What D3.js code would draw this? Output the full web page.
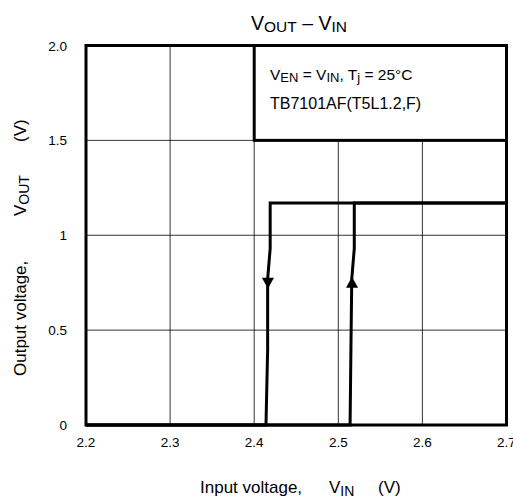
<!DOCTYPE html>
<html>
<head>
<meta charset="utf-8">
<script src="https://cdn.jsdelivr.net/npm/d3@7"></script>
<style>
  body { margin: 0; background: #fff; overflow: hidden; }
  text { font-family: "Liberation Sans", Arial, sans-serif; fill: #000; }
</style>
</head>
<body>
<div id="chart"></div>
<script>
// axis ticks
let xTicks = [2.2, 2.3, 2.4, 2.5, 2.6, 2.7];
let yTicks = [0, 0.5, 1, 1.5, 2.0];
let yTickLabels = ['0', '0.5', '1', '1.5', '2.0'];

// VOUT while VIN falls (turn-off) and rises (turn-on)
let fallVin  = [2.7, 2.419, 2.419, 2.416, 2.416, 2.414, 2.2];
let fallVout = [1.17, 1.17, 0.93, 0.77, 0.40, 0, 0];
let riseVin  = [2.2, 2.514, 2.515, 2.516, 2.519, 2.519, 2.7];
let riseVout = [0, 0, 0.40, 0.77, 0.93, 1.17, 1.17];

// arrow positions [vin, vout, direction]
let arrows = [[2.4163, 0.75, 'down'], [2.5163, 0.75, 'up']];

let w = 513;
let h = 503;

let xScale = d3.scaleLinear().domain([2.2, 2.7]).range([86, 506.5]);
let yScale = d3.scaleLinear().domain([0, 2]).range([425, 45.5]);

let svg = d3.select('#chart').append('svg')
            .attr('width', w)
            .attr('height', h);

// grid
svg.append('g').selectAll('line')
   .data(xTicks.slice(1, -1))
   .enter().append('line')
   .attr('x1', d => xScale(d)).attr('x2', d => xScale(d))
   .attr('y1', yScale(0)).attr('y2', yScale(2))
   .attr('stroke', '#000').attr('stroke-width', 0.8);
svg.append('g').selectAll('line')
   .data(yTicks.slice(1, -1))
   .enter().append('line')
   .attr('y1', d => yScale(d)).attr('y2', d => yScale(d))
   .attr('x1', xScale(2.2)).attr('x2', xScale(2.7))
   .attr('stroke', '#000').attr('stroke-width', 0.8);

// legend box
svg.append('rect')
   .attr('x', xScale(2.4)).attr('y', yScale(2))
   .attr('width', xScale(2.7) - xScale(2.4))
   .attr('height', yScale(1.5) - yScale(2))
   .attr('fill', '#fff').attr('stroke', '#000').attr('stroke-width', 3);

let leg1 = svg.append('text').attr('x', 270).attr('y', 80).style('font-size', '15.5px');
leg1.append('tspan').text('V');
leg1.append('tspan').text('EN').style('font-size', '13px').attr('dy', 1.5);
leg1.append('tspan').text(' = V').attr('dy', -1.5);
leg1.append('tspan').text('IN').style('font-size', '13px').attr('dy', 1.5);
leg1.append('tspan').text(', T').attr('dy', -1.5);
leg1.append('tspan').text('j').style('font-size', '13px').attr('dy', 1.5);
leg1.append('tspan').text(' = 25°C').attr('dy', -1.5);
svg.append('text').attr('x', 270).attr('y', 109).style('font-size', '16px')
   .text('TB7101AF(T5L1.2,F)');

// curves
let line = d3.line().x(d => xScale(d[0])).y(d => yScale(d[1]));
let fall = fallVin.map((v, i) => [v, fallVout[i]]);
let rise = riseVin.map((v, i) => [v, riseVout[i]]);
[fall, rise].forEach(s => {
  svg.append('path').attr('d', line(s))
     .attr('fill', 'none').attr('stroke', '#000')
     .attr('stroke-width', 3).attr('stroke-linejoin', 'miter');
});

// arrow heads
svg.selectAll('.arrow')
   .data(arrows)
   .enter().append('path')
   .attr('class', 'arrow')
   .attr('d', d => {
     let x = xScale(d[0]), y = yScale(d[1]);
     return d[2] === 'down'
       ? 'M' + (x - 6) + ',' + (y - 5) + 'L' + (x + 6) + ',' + (y - 5) + 'L' + x + ',' + (y + 6) + 'Z'
       : 'M' + (x - 6) + ',' + (y + 5) + 'L' + (x + 6) + ',' + (y + 5) + 'L' + x + ',' + (y - 6) + 'Z';
   })
   .attr('fill', '#000');

// frame
svg.append('rect')
   .attr('x', xScale(2.2)).attr('y', yScale(2))
   .attr('width', xScale(2.7) - xScale(2.2))
   .attr('height', yScale(0) - yScale(2))
   .attr('fill', 'none').attr('stroke', '#000').attr('stroke-width', 3);

// tick labels
svg.append('g').selectAll('text')
   .data(xTicks)
   .enter().append('text')
   .attr('x', d => xScale(d)).attr('y', 447)
   .attr('text-anchor', 'middle')
   .style('font-size', '13.5px')
   .text(d => d.toFixed(1));
svg.append('g').selectAll('text')
   .data(yTicks)
   .enter().append('text')
   .attr('x', 67).attr('y', d => yScale(d) + 5)
   .attr('text-anchor', 'end')
   .style('font-size', '13.5px')
   .text((d, i) => yTickLabels[i]);

// title
let title = svg.append('text').attr('x', 299).attr('y', 30)
               .attr('text-anchor', 'middle').style('font-size', '19.5px');
title.append('tspan').text('V');
title.append('tspan').text('OUT').style('font-size', '15.5px').attr('dy', 1.5);
title.append('tspan').text(' – V').attr('dy', -1.5);
title.append('tspan').text('IN').style('font-size', '15.5px').attr('dy', 1.5);

// axis titles
let xt = svg.append('g').style('font-size', '17px');
xt.append('text').attr('x', 200).attr('y', 493).text('Input voltage,');
let xv = xt.append('text').attr('x', 329).attr('y', 493);
xv.append('tspan').text('V');
xv.append('tspan').text('IN').style('font-size', '14px').attr('dy', 2.5);
xt.append('text').attr('x', 378).attr('y', 493).text('(V)');

let yt = svg.append('g').attr('transform', 'translate(26,0) rotate(-90)')
            .style('font-size', '17px');
yt.append('text').attr('x', -376).attr('y', 0).text('Output voltage,');
let yv = yt.append('text').attr('x', -216).attr('y', 0);
yv.append('tspan').text('V');
yv.append('tspan').text('OUT').style('font-size', '14px').attr('dy', 2.5);
yt.append('text').attr('x', -142).attr('y', 0).text('(V)');
</script>
</body>
</html>
